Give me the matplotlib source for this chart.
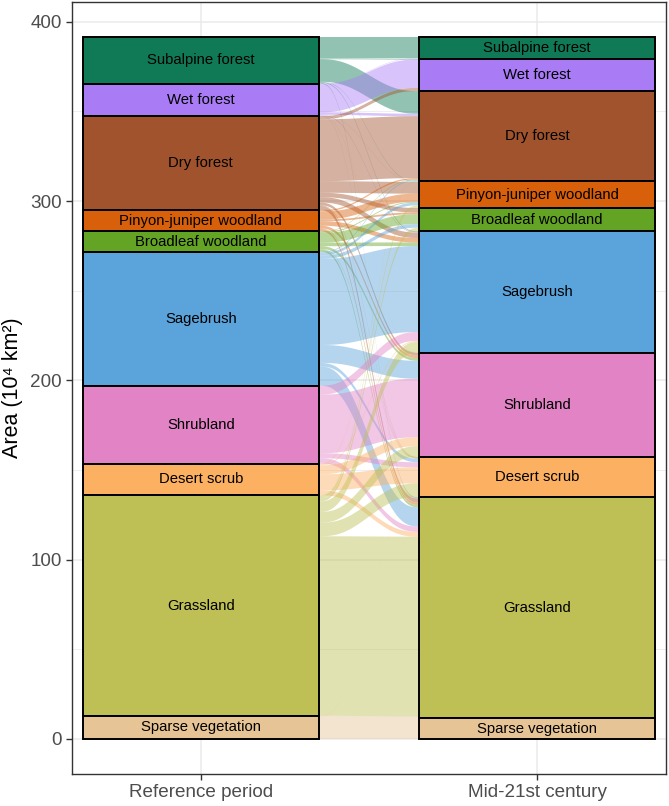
import numpy as np
import matplotlib
matplotlib.use("Agg")
import matplotlib.pyplot as plt
from matplotlib.patches import Polygon, Rectangle

plt.rcParams['font.family'] = ['Liberation Sans', 'DejaVu Sans']

# vegetation classes, top to bottom
classes = ["Subalpine forest", "Wet forest", "Dry forest", "Pinyon-juniper woodland",
           "Broadleaf woodland", "Sagebrush", "Shrubland", "Desert scrub",
           "Grassland", "Sparse vegetation"]
colors = ["#0F7A55", "#A97CF6", "#A0532D", "#D9600B", "#64A424",
          "#5BA3DB", "#E283C6", "#FBB062", "#BEC056", "#E6C496"]
periods = ["Reference period", "Mid-21st century"]

# area moving from reference class (rows) to mid-21st century class (cols), 10^4 km2
flows = np.array([
    [11.8, 0.5, 12.6, 0.2, 0.0, 0.4, 0.0, 0.0, 0.4, 0.0],
    [0.2, 15.8, 1.4, 0.1, 0.0, 0.3, 0.1, 0.0, 0.2, 0.0],
    [0.0, 1.8, 34.5, 6.5, 2.5, 3.0, 1.5, 0.3, 2.3, 0.0],
    [0.0, 0.0, 0.8, 4.5, 1.0, 2.5, 1.5, 0.3, 1.3, 0.0],
    [0.0, 0.0, 0.3, 0.5, 5.5, 2.0, 1.5, 0.3, 1.3, 0.0],
    [0.0, 0.0, 0.5, 1.5, 2.0, 48.0, 10.0, 2.0, 10.7, 0.0],
    [0.0, 0.0, 0.0, 0.0, 0.0, 5.0, 32.7, 2.8, 3.0, 0.0],
    [0.0, 0.0, 0.0, 0.2, 0.2, 0.5, 5.0, 9.0, 2.7, 0.0],
    [0.0, 0.0, 0.3, 1.3, 1.8, 5.9, 6.0, 7.6, 100.2, 0.0],
    [0.0, 0.0, 0.0, 0.0, 0.0, 0.0, 0.0, 0.2, 1.2, 11.4],
])

n = len(classes)
left_tot = flows.sum(axis=1)
right_tot = flows.sum(axis=0)
# stratum tops (stacked from the bottom, first class on top)
left_top = np.cumsum(left_tot[::-1])[::-1]
right_top = np.cumsum(right_tot[::-1])[::-1]

w = 0.7
x0, x1 = 1 + w / 2, 2 - w / 2

fig = plt.figure(figsize=(6.69, 8.06), dpi=100)
ax = fig.add_axes([0.1076, 0.0397, 0.8879, 0.9578])

# flows (smooth S-curves between the strata)
t = np.linspace(0, 1, 100)
s = t ** 3 * (t * (6 * t - 15) + 10)
xs = x0 + (x1 - x0) * t
rstart = {}
# right-side offsets: ordered by source class
for j in range(n):
    y = right_top[j]
    for i in range(n):
        rstart[(i, j)] = y
        y -= flows[i, j]
for i in range(n):
    y = left_top[i]
    for j in range(n):
        v = flows[i, j]
        if v <= 0:
            continue
        lt, lb = y, y - v
        rt, rb = rstart[(i, j)], rstart[(i, j)] - v
        top = lt + (rt - lt) * s
        bot = lb + (rb - lb) * s
        pts = np.vstack([np.column_stack([xs, top]),
                         np.column_stack([xs[::-1], bot[::-1]])])
        ax.add_patch(Polygon(pts, closed=True, facecolor=colors[i], alpha=0.45,
                             edgecolor='none', zorder=2))
        y -= v

# strata
for xc, tops, tots in [(1, left_top, left_tot), (2, right_top, right_tot)]:
    for k in range(n):
        ax.add_patch(Rectangle((xc - w / 2, tops[k] - tots[k]), w, tots[k],
                               facecolor=colors[k], edgecolor='black', lw=1.4, zorder=3))
        ax.text(xc, tops[k] - tots[k] / 2, classes[k], ha='center', va='center',
                fontsize=10.7, color='black', zorder=4)

ax.set_xlim(0.617, 2.383)
ax.set_ylim(-19.6, 411)
ax.set_xticks([1, 2])
ax.set_xticklabels(periods)
ax.set_yticks([0, 100, 200, 300, 400])
ax.set_yticks([50, 150, 250, 350], minor=True)
ax.grid(which='major', color='#EBEBEB', lw=1.1)
ax.grid(which='minor', axis='y', color='#EBEBEB', lw=0.55)
ax.set_axisbelow(True)
ax.tick_params(axis='both', which='major', labelsize=13.6, colors='#333333',
               labelcolor='#4D4D4D', length=4, width=1)
ax.tick_params(which='minor', length=0)
for sp in ax.spines.values():
    sp.set_color('#333333')
    sp.set_linewidth(1)
ax.set_ylabel("Area (10⁴ km²)", fontsize=15.5, color='black', labelpad=5)

fig.savefig("out.png", dpi=100)
